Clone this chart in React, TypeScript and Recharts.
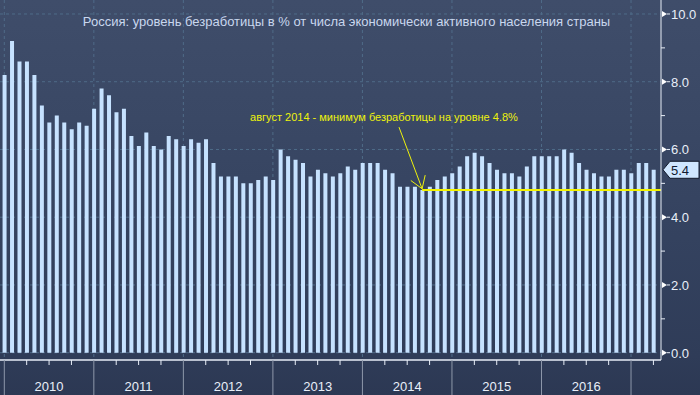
import { BarChart, Bar, XAxis, YAxis, CartesianGrid, ReferenceLine } from "recharts";

const title =
  "Россия: уровень безработицы в % от числа экономически активного населения страны";
const note = "август 2014 - минимум безработицы на уровне 4.8%";

const years = ["2010", "2011", "2012", "2013", "2014", "2015", "2016"];

// monthly, Dec 2009 .. Mar 2017
const unemployment = [
  8.2, 9.2, 8.6, 8.6, 8.2, 7.3, 6.8, 7.0, 6.8, 6.6, 6.8, 6.7,
  7.2, 7.8, 7.6, 7.1, 7.2, 6.4, 6.1, 6.5, 6.1, 6.0, 6.4, 6.3,
  6.1, 6.3, 6.2, 6.3, 5.6, 5.2, 5.2, 5.2, 5.0, 5.0, 5.1, 5.2,
  5.1, 6.0, 5.8, 5.7, 5.6, 5.2, 5.4, 5.3, 5.2, 5.3, 5.5, 5.4,
  5.6, 5.6, 5.6, 5.4, 5.3, 4.9, 4.9, 4.9, 4.8, 4.9, 5.1, 5.2,
  5.3, 5.5, 5.8, 5.9, 5.8, 5.6, 5.4, 5.3, 5.3, 5.2, 5.5, 5.8,
  5.8, 5.8, 5.8, 6.0, 5.9, 5.6, 5.4, 5.3, 5.2, 5.2, 5.4, 5.4,
  5.3, 5.6, 5.6, 5.4,
];

const yMajor = [0, 2, 4, 6, 8, 10];
const yMinor = [1, 3, 5, 7, 9];

const data = unemployment.map((v, i) => ({ i, v }));
const lastValue = unemployment[unemployment.length - 1];
const minValue = Math.min(...unemployment);
const minIndex = unemployment.indexOf(minValue);

const X_MIN = -0.576;
const X_MAX = 88.017;
const Y_MIN = -0.2155;
const Y_MAX = 10.413;

const quarterTicks = data.filter((d) => d.i % 3 === 0).map((d) => d.i);
const yearBounds = data.filter((d) => d.i % 12 === 0).map((d) => d.i);

const AXIS = "#e8eef7";
const LABEL = "#e9eff9";
const YELLOW = "#eef20c";

const XTick = (props: any) => {
  const { x, y, payload } = props;
  const idx = payload.value as number;
  const yr = idx % 12 === 6 ? years[(idx - 6) / 12] : undefined;
  return (
    <g>
      {idx % 12 === 0 ? (
        <line x1={x} x2={x} y1={y} y2={y + 36} stroke="#8e98aa" />
      ) : (
        <line x1={x} x2={x} y1={y} y2={y + 5} stroke={AXIS} />
      )}
      {yr && (
        <text x={x} y={y + 31} textAnchor="middle" fill={LABEL} fontSize={13}>
          {yr}
        </text>
      )}
    </g>
  );
};

const YTick = (props: any) => {
  const { x, y, payload } = props;
  const v = payload.value as number;
  if (v === lastValue) {
    return (
      <g>
        <polygon
          points={`${x + 2},${y} ${x + 9},${y - 8.5} ${x + 38},${y - 8.5} ${x + 38},${y + 8.5} ${x + 9},${y + 8.5}`}
          fill="#cfe6ff"
          stroke="#121a2c"
        />
        <text x={x + 10} y={y + 5} fill="#101a30" fontSize={13}>
          {v.toFixed(1)}
        </text>
      </g>
    );
  }
  if (yMinor.includes(v)) {
    return <line x1={x} x2={x + 4} y1={y} y2={y} stroke={AXIS} />;
  }
  return (
    <g>
      <polygon points={`${x + 1},${y - 3} ${x + 6},${y} ${x + 1},${y + 3}`} fill="#ffffff" />
      <line x1={x + 6} x2={x + 9} y1={y} y2={y} stroke={AXIS} />
      <text x={x + 10} y={y + 5} fill={LABEL} fontSize={13}>
        {v.toFixed(1)}
      </text>
    </g>
  );
};

const Arrow = (props: any) => {
  const { x1, y1, x2, y2 } = props;
  const back = Math.atan2(y1 - y2, x1 - x2);
  const a = 0.58;
  const len = 14;
  const b1x = x2 + len * Math.cos(back - a);
  const b1y = y2 + len * Math.sin(back - a);
  const b2x = x2 + len * Math.cos(back + a);
  const b2y = y2 + len * Math.sin(back + a);
  return (
    <g>
      <line x1={x1} y1={y1} x2={x2} y2={y2} stroke={YELLOW} strokeWidth={1} />
      <line x1={x2} y1={y2} x2={b1x} y2={b1y} stroke={YELLOW} strokeWidth={1} />
      <line x1={x2} y1={y2} x2={b2x} y2={b2y} stroke={YELLOW} strokeWidth={1} />
      <text x={x1 - 15} y={y1 - 6} textAnchor="middle" fill={YELLOW} fontSize={11}>
        {note}
      </text>
    </g>
  );
};

export default function App() {
  return (
    <div
      style={{
        position: "absolute",
        left: 0,
        top: 0,
        width: 700,
        height: 395,
        overflow: "hidden",
        fontFamily: "'Liberation Sans', Arial, sans-serif",
        background:
          "linear-gradient(to bottom, #3f4d6a 0%, #3a4865 30%, #34425f 60%, #2f3c58 90%, #2c3853 100%)",
      }}
    >
      <BarChart
        width={700}
        height={395}
        data={data}
        margin={{ top: 0, right: 0, bottom: 0, left: 0 }}
        barSize={4}
      >
        <CartesianGrid
          stroke="#4f6b88"
          strokeDasharray="3 3"
          horizontalValues={yMajor}
          verticalValues={yearBounds}
        />
        <XAxis
          dataKey="i"
          type="number"
          domain={[X_MIN, X_MAX]}
          allowDataOverflow
          ticks={quarterTicks}
          interval={0}
          height={35}
          tickLine={false}
          tickSize={0}
          tickMargin={0}
          axisLine={{ stroke: AXIS, strokeWidth: 1.5 }}
          tick={<XTick />}
        />
        <YAxis
          orientation="right"
          width={39}
          domain={[Y_MIN, Y_MAX]}
          allowDataOverflow
          ticks={[...yMajor, ...yMinor, lastValue].sort((a, b) => a - b)}
          interval={0}
          tickLine={false}
          tickSize={0}
          tickMargin={0}
          axisLine={{ stroke: AXIS }}
          tick={<YTick />}
        />
        <Bar dataKey="v" fill="#c6e2ff" isAnimationActive={false} />
        <ReferenceLine
          segment={[
            { x: minIndex, y: minValue },
            { x: X_MAX, y: minValue },
          ]}
          stroke="#f4f400"
          strokeWidth={2}
        />
        <ReferenceLine
          segment={[
            { x: 52.9, y: 6.66 },
            { x: minIndex, y: minValue + 0.04 },
          ]}
          shape={<Arrow />}
        />
      </BarChart>
      <div
        style={{
          position: "absolute",
          top: 14,
          left: 0,
          width: 693,
          textAlign: "center",
          color: "#c9d7ee",
          fontSize: 13,
          whiteSpace: "nowrap",
        }}
      >
        {title}
      </div>
    </div>
  );
}
